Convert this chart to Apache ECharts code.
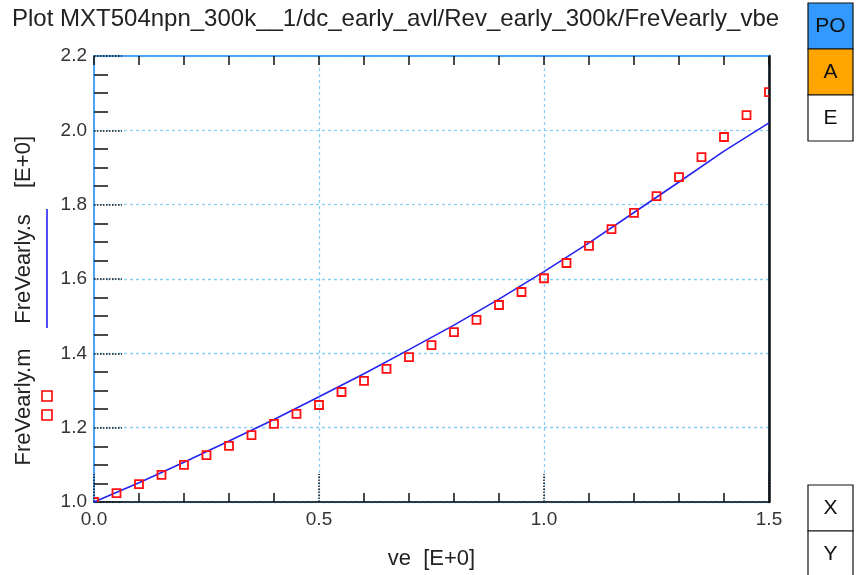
<!DOCTYPE html>
<html>
<head>
<meta charset="utf-8">
<script src="https://cdn.jsdelivr.net/npm/echarts@6/dist/echarts.min.js"></script>
<style>
html,body{margin:0;padding:0;background:#fff;}
#c{width:856px;height:575px;}
</style>
</head>
<body>
<div id="c"></div>
<script>
// ---- data ----
const titleText = 'Plot MXT504npn_300k__1/dc_early_avl/Rev_early_300k/FreVearly_vbe';
const xTickLabels = ['0.0', '0.5', '1.0', '1.5'];
const yTickLabels = ['1.0', '1.2', '1.4', '1.6', '1.8', '2.0', '2.2'];
const measX = [0, 0.05, 0.1, 0.15, 0.2, 0.25, 0.3, 0.35, 0.4, 0.45, 0.5, 0.55, 0.6, 0.65, 0.7, 0.75,
               0.8, 0.85, 0.9, 0.95, 1.0, 1.05, 1.1, 1.15, 1.2, 1.25, 1.3, 1.35, 1.4, 1.45, 1.5];
const measY = [1.000, 1.024, 1.048, 1.073, 1.100, 1.126, 1.151, 1.180, 1.210, 1.237, 1.261, 1.296, 1.326, 1.358, 1.390, 1.422,
               1.457, 1.490, 1.530, 1.565, 1.602, 1.643, 1.689, 1.734, 1.778, 1.823, 1.874, 1.928, 1.982, 2.041, 2.103];
const simX = [0, 0.1, 0.2, 0.3, 0.4, 0.5, 0.6, 0.7, 0.8, 0.9, 1.0, 1.1, 1.2, 1.3, 1.4, 1.5];
const simY = [1.000, 1.052, 1.107, 1.164, 1.222, 1.283, 1.345, 1.410, 1.476, 1.546, 1.620, 1.697, 1.779, 1.861, 1.944, 2.020];
const measName = 'FreVearly.m';
const simName = 'FreVearly.s';
const yUnit = '[E+0]';
const xName = 've  [E+0]';
const sideButtons = ['PO', 'A', 'E'];
const axisButtons = ['X', 'Y'];

const chart = echarts.init(document.getElementById('c'), null, {renderer: 'canvas'});
const FONT = 'Liberation Sans, Arial, sans-serif';
const frameBlue = '#3f9cf5';
const gridBlue = '#8ccff5';

const measData = measX.map((x, i) => [x, measY[i]]);
const simData = simX.map((x, i) => [x, simY[i]]);

const graphics = [
  {type: 'text', left: 12, top: 7, style: {text: titleText, font: '24px ' + FONT, fill: '#222'}},
  // rotated legend / y name
  {type: 'text', x: 24, y: 407, rotation: Math.PI / 2,
   style: {text: measName, font: '22px ' + FONT, fill: '#222', align: 'center', verticalAlign: 'middle'}},
  {type: 'rect', shape: {x: 42, y: 391, width: 10, height: 10}, style: {fill: 'none', stroke: '#ff0000', lineWidth: 1.6}},
  {type: 'rect', shape: {x: 42, y: 410, width: 10, height: 10}, style: {fill: 'none', stroke: '#ff0000', lineWidth: 1.6}},
  {type: 'text', x: 24, y: 269, rotation: Math.PI / 2,
   style: {text: simName, font: '22px ' + FONT, fill: '#222', align: 'center', verticalAlign: 'middle'}},
  {type: 'line', shape: {x1: 47, y1: 209, x2: 47, y2: 328}, style: {stroke: '#2424f0', lineWidth: 1.6}},
  {type: 'text', x: 24, y: 162, rotation: Math.PI / 2,
   style: {text: yUnit, font: '22px ' + FONT, fill: '#222', align: 'center', verticalAlign: 'middle'}}
];
const btnFill = ['#3399ff', '#ffa500', '#ffffff'];
sideButtons.forEach((t, i) => {
  graphics.push({type: 'rect', shape: {x: 808, y: 3 + 46 * i, width: 45, height: 46},
    style: {fill: btnFill[i], stroke: '#111', lineWidth: 1.2}});
  graphics.push({type: 'text', x: 830.5, y: 26 + 46 * i,
    style: {text: t, font: '21px ' + FONT, fill: '#111', align: 'center', verticalAlign: 'middle'}});
});
axisButtons.forEach((t, i) => {
  graphics.push({type: 'rect', shape: {x: 808, y: 485 + 46 * i, width: 45, height: 46},
    style: {fill: '#fff', stroke: '#111', lineWidth: 1.2}});
  graphics.push({type: 'text', x: 830.5, y: 508 + 46 * i,
    style: {text: t, font: '21px ' + FONT, fill: '#111', align: 'center', verticalAlign: 'middle'}});
});

const option = {
  backgroundColor: '#fff',
  animation: false,
  textStyle: {fontFamily: FONT},
  grid: {left: 94, right: 87, top: 56, bottom: 73, show: true, borderColor: frameBlue, borderWidth: 1.5},
  xAxis: [{
    type: 'value', min: 0, max: 1.5, interval: 0.5, position: 'bottom',
    name: xName, nameLocation: 'middle', nameGap: 46,
    nameTextStyle: {fontSize: 22, color: '#222', fontFamily: FONT},
    axisLine: {show: true, onZero: false, lineStyle: {color: '#111', width: 1.5}},
    axisTick: {show: true, inside: true, length: 28, lineStyle: {color: '#111', width: 1.5, type: 'dotted'}},
    minorTick: {show: true, splitNumber: 5, length: 9, lineStyle: {color: '#111', width: 1.5}},
    axisLabel: {fontSize: 19, color: '#333', margin: 8, fontFamily: FONT,
      formatter: (v, i) => xTickLabels[Math.round(v / 0.5)]},
    splitLine: {show: true, lineStyle: {color: gridBlue, type: [3, 3], width: 1.3}}
  }, {
    type: 'value', min: 0, max: 1.5, interval: 0.1, position: 'top',
    axisLine: {show: true, onZero: false, lineStyle: {color: frameBlue, width: 1.5}},
    axisTick: {show: true, inside: true, length: 9, lineStyle: {color: '#111', width: 1.5}},
    axisLabel: {show: false}, splitLine: {show: false}
  }],
  yAxis: [{
    type: 'value', min: 1.0, max: 2.2, interval: 0.2, position: 'left',
    axisLine: {show: true, onZero: false, lineStyle: {color: frameBlue, width: 1.5}},
    axisTick: {show: true, inside: true, length: 28, lineStyle: {color: '#111', width: 1.5, type: 'dotted'}},
    minorTick: {show: true, splitNumber: 4, length: 14, lineStyle: {color: '#111', width: 1.5}},
    axisLabel: {fontSize: 19, color: '#333', margin: 7, fontFamily: FONT,
      formatter: (v) => yTickLabels[Math.round((v - 1.0) / 0.2)]},
    splitLine: {show: true, lineStyle: {color: gridBlue, type: [3, 3], width: 1.3}}
  }, {
    type: 'value', min: 1.0, max: 2.2, interval: 0.2, position: 'right',
    axisLine: {show: true, onZero: false, lineStyle: {color: '#111', width: 2.5}},
    axisTick: {show: false}, axisLabel: {show: false}, splitLine: {show: false}
  }],
  series: [{
    name: simName, type: 'line', data: simData, showSymbol: false, symbol: 'none', clip: true,
    lineStyle: {color: '#2424f0', width: 1.6}, z: 3
  }, {
    name: measName, type: 'custom', data: measData, clip: true, z: 4,
    encode: {x: 0, y: 1},
    renderItem: function (params, api) {
      const p = api.coord([api.value(0), api.value(1)]);
      return {type: 'rect', shape: {x: p[0] - 4, y: p[1] - 4, width: 8, height: 8},
        style: {fill: 'none', stroke: '#ff1010', lineWidth: 1.8}};
    }
  }],
  graphic: graphics
};
chart.setOption(option);
</script>
</body>
</html>
